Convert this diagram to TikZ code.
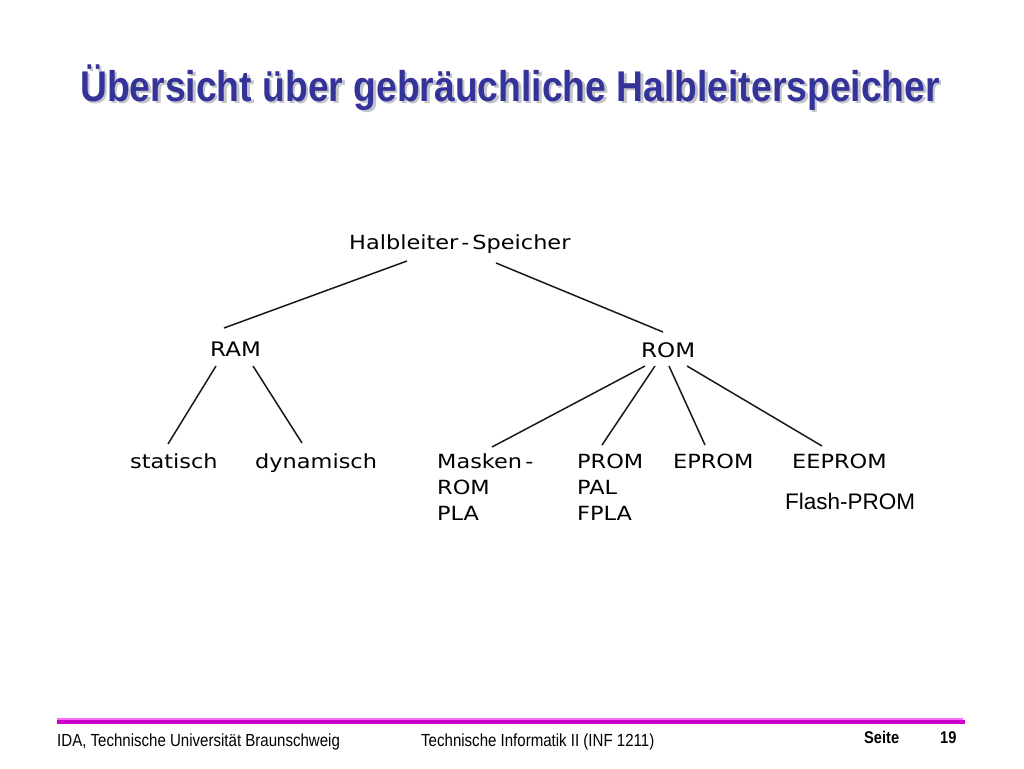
\documentclass[tikz,border=0pt]{standalone}
\usepackage{fontspec}
\setmainfont{Liberation Sans}
\newfontfamily\titlefont[FakeStretch=0.867]{Liberation Sans}
\newfontfamily\treefont[FakeStretch=1.15]{DejaVu Sans}
\newfontfamily\flashfont{Liberation Sans}
\newfontfamily\footfont[FakeStretch=0.86]{Liberation Sans}
\definecolor{titleblue}{RGB}{51,51,153}
\definecolor{shadowgrey}{RGB}{196,196,200}
\definecolor{barmag}{RGB}{204,0,204}
\definecolor{barpink}{RGB}{255,110,255}
\newcommand{\titletext}{Übersicht über gebräuchliche Halbleiterspeicher}
\begin{document}
\begin{tikzpicture}[x=1pt,y=-1pt,
  tree/.style={inner sep=0pt,anchor=base west,font=\treefont\fontsize{19.5}{26}\selectfont,align=left},
  flash/.style={inner sep=0pt,anchor=base west,font=\flashfont\fontsize{22.5}{26}\selectfont},
  edge/.style={line width=1.5pt,black!90},
  titletxt/.style={inner sep=0pt,anchor=base west,font=\titlefont\bfseries\fontsize{43}{43}\selectfont},
  foot/.style={inner sep=0pt,anchor=base west,font=\footfont\fontsize{17.5}{18}\selectfont},
  footb/.style={inner sep=0pt,anchor=base west,font=\footfont\bfseries\fontsize{17}{18}\selectfont}]
\useasboundingbox[fill=white] (0,0) rectangle (1024,768);
% title with its shadow in one node
\node[titletxt,text=titleblue] (title) at (80,101)
  {\rlap{\hspace{2.5pt}\raisebox{-2.5pt}{\textcolor{shadowgrey}{\titletext}}}\titletext};
% tree nodes
\node[tree] (hs) at (349,249) {Halbleiter\kern3pt-\kern3pt Speicher};
\node[tree,font=\treefont\fontsize{20}{26}\selectfont] (ram) at (210,356) {RAM};
\node[tree,font=\treefont\fontsize{20}{26}\selectfont] (rom) at (641,357) {ROM};
\node[tree] (stat) at (130,468) {statisch};
\node[tree] (dyn) at (255,468) {dynamisch};
\node[tree,anchor=north west] (mask) at (437,453.5) {Masken\,-\\ROM\\PLA};
\node[tree,anchor=north west] (prom) at (577,454) {PROM\\PAL\\FPLA};
\node[tree] (eprom) at (673,468) {EPROM};
\node[tree] (eeprom) at (792,468) {EEPROM};
\node[flash] (flash) at (785,509) {Flash-PROM};
% connector end points
\coordinate (hsL) at (407,261);
\coordinate (hsR) at (496,263);
\coordinate (ramT) at (224,328);
\coordinate (romT) at (663,332);
\coordinate (ramBL) at (216,366);
\coordinate (ramBR) at (253,366);
\coordinate (statT) at (168,444);
\coordinate (dynT) at (302,443);
\coordinate (romB1) at (645,366);
\coordinate (romB2) at (655,366);
\coordinate (romB3) at (669,366);
\coordinate (romB4) at (687,366);
\coordinate (maskT) at (492,447);
\coordinate (promT) at (602,445);
\coordinate (epromT) at (705,445);
\coordinate (eepromT) at (822,446);
\draw[edge] (hsL) -- (ramT);
\draw[edge] (hsR) -- (romT);
\draw[edge] (ramBL) -- (statT);
\draw[edge] (ramBR) -- (dynT);
\draw[edge] (romB1) -- (maskT);
\draw[edge] (romB2) -- (promT);
\draw[edge] (romB3) -- (epromT);
\draw[edge] (romB4) -- (eepromT);
% footer bar
\draw[barpink,line width=2pt] (57,719) -- (963,719);
\draw[barmag,line width=3.5pt] (57,722) -- (965,722);
\node[foot] (f1) at (57,746) {IDA, Technische Universität Braunschweig};
\node[foot] (f2) at (421,746) {Technische Informatik II (INF 1211)};
\node[footb] (f3) at (864,743) {Seite};
\node[footb] (f4) at (940,743) {19};
\end{tikzpicture}
\end{document}
